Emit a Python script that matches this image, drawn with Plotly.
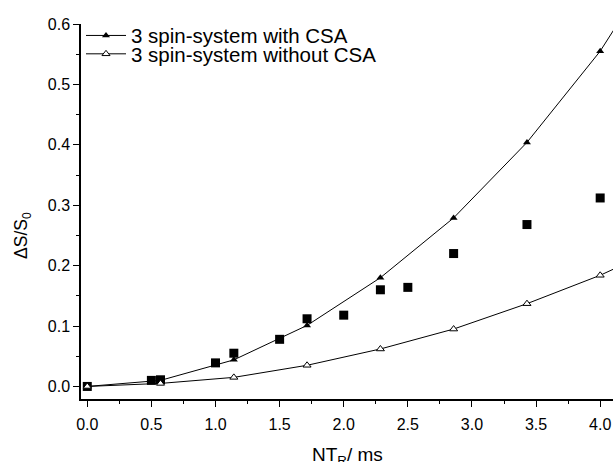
import plotly.graph_objects as go

# Theoretical curves (x = multiples of 4/7 ms)
x_sim = [0.0, 0.571, 1.143, 1.714, 2.286, 2.857, 3.429, 4.0, 4.571]
y_with_csa = [0.0, 0.010, 0.044, 0.101, 0.180, 0.279, 0.404, 0.555, 0.745]
y_without_csa = [0.0, 0.005, 0.015, 0.035, 0.062, 0.095, 0.137, 0.184, 0.240]

# Experimental points
x_exp = [0.0, 0.5, 0.571, 1.0, 1.143, 1.5, 1.714, 2.0, 2.286, 2.5, 2.857, 3.429, 4.0]
y_exp = [0.0, 0.010, 0.011, 0.039, 0.055, 0.078, 0.112, 0.118, 0.160, 0.164, 0.220, 0.268, 0.312]

x_ticks = [0.0, 0.5, 1.0, 1.5, 2.0, 2.5, 3.0, 3.5, 4.0]
x_ticklabels = ["0.0", "0.5", "1.0", "1.5", "2.0", "2.5", "3.0", "3.5", "4.0"]
y_ticks = [0.0, 0.1, 0.2, 0.3, 0.4, 0.5, 0.6]
y_ticklabels = ["0.0", "0.1", "0.2", "0.3", "0.4", "0.5", "0.6"]

x_title = "NT<sub>R</sub>/ ms"
y_title = "ΔS/S<sub>0</sub>"

FONT = "Liberation Sans, Arial, sans-serif"

fig = go.Figure()

fig.add_trace(go.Scatter(
    x=x_exp, y=y_exp, mode="markers", showlegend=False,
    marker=dict(symbol="square", size=9, color="black", line=dict(width=0)),
))
fig.add_trace(go.Scatter(
    x=x_sim, y=y_with_csa, mode="lines+markers",
    name="3 spin-system with CSA", legend="legend",
    line=dict(color="black", width=1),
    marker=dict(symbol="triangle-up", size=7, color="black", line=dict(width=0)),
))
fig.add_trace(go.Scatter(
    x=x_sim, y=y_without_csa, mode="lines+markers",
    name="3 spin-system without CSA", legend="legend2",
    line=dict(color="black", width=1),
    marker=dict(symbol="triangle-up", size=7, color="white",
                line=dict(color="black", width=1)),
))

axis_common = dict(
    showgrid=False, zeroline=False, showline=True, linecolor="black", linewidth=1.5,
    ticks="outside", ticklen=6, tickwidth=1.2, tickcolor="black",
    tickfont=dict(family=FONT, size=16, color="black"),
    mirror=False,
)

fig.update_xaxes(
    range=[-0.049, 4.10], tickmode="array", tickvals=x_ticks, ticktext=x_ticklabels,
    minor=dict(ticks="outside", ticklen=3.5, tickwidth=1.2, tickcolor="black", dtick=0.25, tick0=0),
    ticklabelstandoff=4,
    **axis_common,
)
fig.update_yaxes(
    range=[-0.0208, 0.6], tickmode="array", tickvals=y_ticks, ticktext=y_ticklabels,
    minor=dict(ticks="outside", ticklen=3.5, tickwidth=1.2, tickcolor="black", dtick=0.05, tick0=0),
    **axis_common,
)

# Axis titles (x title sits partly below the visible page edge, as in the original)
fig.add_annotation(
    text=x_title, xref="paper", yref="paper", x=0.5, y=-0.152,
    xanchor="center", yanchor="middle", showarrow=False,
    font=dict(family=FONT, size=19, color="black"),
)
fig.add_annotation(
    text=y_title, xref="paper", yref="paper", x=-0.11, y=0.436,
    xanchor="center", yanchor="middle", textangle=-90, showarrow=False,
    font=dict(family=FONT, size=17.5, color="black"),
)

legend_common = dict(
    x=0.0, xanchor="left", yanchor="middle",
    bgcolor="rgba(0,0,0,0)", borderwidth=0,
    font=dict(family=FONT, size=20.5, color="black"),
    itemwidth=40,
)

fig.update_layout(
    width=615, height=462,
    margin=dict(l=81, r=2, t=24, b=63, autoexpand=False),
    paper_bgcolor="white", plot_bgcolor="white",
    showlegend=True,
    legend=dict(y=0.969, **legend_common),
    legend2=dict(y=0.920, **legend_common),
)

fig.write_html(
    "out.html",
    config={"displayModeBar": False},
    post_script="document.body.style.margin='0';document.documentElement.style.overflow='hidden';",
)
